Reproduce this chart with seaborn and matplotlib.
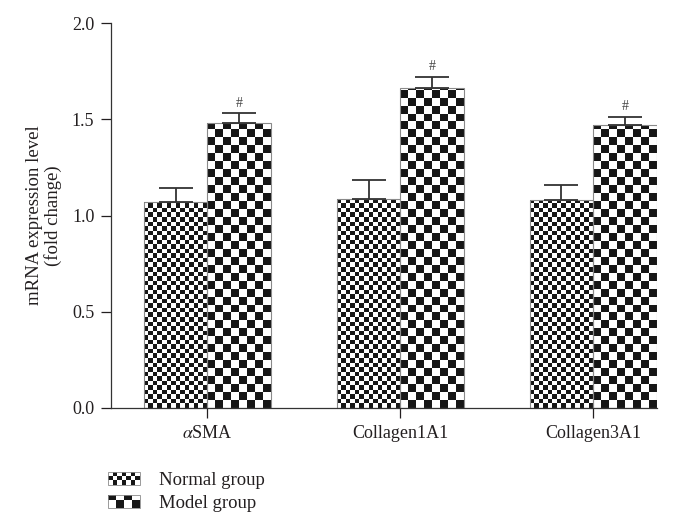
import numpy as np
import pandas as pd
import matplotlib
matplotlib.use("Agg")
import matplotlib.pyplot as plt
import seaborn as sns
from matplotlib.patches import Rectangle
from matplotlib.collections import PatchCollection
from matplotlib.legend_handler import HandlerBase

genes = [r"$\alpha$SMA", "Collagen1A1", "Collagen3A1"]
groups = ["Normal group", "Model group"]
normal_mean = [1.07, 1.085, 1.08]
normal_sd = [0.075, 0.10, 0.08]
model_mean = [1.48, 1.66, 1.47]
model_sd = [0.05, 0.06, 0.04]
sig_marks = ["#", "#", "#"]

INK = "#231f20"
EDGE = "#8a8a8a"
DARK = "#161616"
DPI = 100
# checker cell size (pixels) for each group
cell_px = {groups[0]: 4.55, groups[1]: 8.0}

sns.set_theme(style="ticks")
plt.rcParams["font.family"] = ["Liberation Serif", "DejaVu Serif"]
plt.rcParams["mathtext.fontset"] = "stix"
plt.rcParams["text.color"] = INK
plt.rcParams["axes.labelcolor"] = INK
plt.rcParams["xtick.color"] = INK
plt.rcParams["ytick.color"] = INK

df = pd.DataFrame({
    "gene": genes * 2,
    "group": [groups[0]] * 3 + [groups[1]] * 3,
    "value": normal_mean + model_mean,
})

fig = plt.figure(figsize=(6.81, 5.17), dpi=DPI)
ax = fig.add_axes([111 / 681, 1 - 408 / 517, (657 - 111) / 681, (408 - 23) / 517])

sns.barplot(data=df, x="gene", y="value", hue="group", order=genes,
            hue_order=groups, width=0.66, errorbar=None, legend=False,
            palette=["white", "white"], saturation=1, edgecolor=EDGE,
            linewidth=0.8, ax=ax)

ax.set_xlim(-0.5, 2.33)
ax.set_ylim(0, 2.0)
ax.set_yticks([0, 0.5, 1.0, 1.5, 2.0])
ax.set_yticklabels(["0.0", "0.5", "1.0", "1.5", "2.0"])
ax.set_xticks(range(len(genes)))
ax.set_xticklabels(genes)
ax.set_xlabel("")
ax.set_ylabel("mRNA expression level\n(fold change)", fontsize=13.5, labelpad=7,
              linespacing=1.05)
ax.tick_params(axis="both", labelsize=13, length=7, width=0.9, direction="out",
               pad=5)
for side in ("top", "right"):
    ax.spines[side].set_visible(False)
for side in ("left", "bottom"):
    ax.spines[side].set_color("#333333")
    ax.spines[side].set_linewidth(0.9)

px_per_x = ax.transData.transform((1, 0))[0] - ax.transData.transform((0, 0))[0]
px_per_y = ax.transData.transform((0, 1))[1] - ax.transData.transform((0, 0))[1]


def fill_checker(patch, size_px):
    """Cover a bar with a black/white checkerboard of square cells."""
    x0, y0 = patch.get_x(), patch.get_y()
    w, h = patch.get_width(), patch.get_height()
    ncols = max(1, int(round(w * px_per_x / size_px)))
    cw = w / ncols
    ch = cw * px_per_x / px_per_y
    nrows = int(np.ceil(h / ch))
    cells = [Rectangle((x0 + c * cw, y0 + r * ch), cw, ch)
             for r in range(nrows) for c in range(ncols) if (r + c) % 2 == 1]
    coll = PatchCollection(cells, facecolor=DARK, edgecolor="none",
                           zorder=patch.get_zorder() + 0.05)
    ax.add_collection(coll, autolim=False)
    coll.set_clip_path(patch)
    patch.set_zorder(patch.get_zorder() + 0.1)
    patch.set_facecolor("none")
    # white backing under the checker
    ax.add_patch(Rectangle((x0, y0), w, h, facecolor="white", edgecolor="none",
                           zorder=patch.get_zorder() - 0.2))


bars = {}
for patch in list(ax.patches):
    cx = patch.get_x() + patch.get_width() / 2
    idx = int(round(cx))
    grp = groups[0] if cx < idx else groups[1]
    bars[(grp, idx)] = patch
    fill_checker(patch, cell_px[grp])

ax.set_xlim(-0.5, 2.33)
ax.set_ylim(0, 2.0)

for grp, means, sds in ((groups[0], normal_mean, normal_sd),
                        (groups[1], model_mean, model_sd)):
    for i, (m, s) in enumerate(zip(means, sds)):
        p = bars[(grp, i)]
        cx = p.get_x() + p.get_width() / 2
        ax.errorbar(cx, m, yerr=[[0], [s]], fmt="none", ecolor="#333333",
                    elinewidth=1.3, capsize=12, capthick=1.3, zorder=5)

for i, mark in enumerate(sig_marks):
    p = bars[(groups[1], i)]
    cx = p.get_x() + p.get_width() / 2
    ax.text(cx, model_mean[i] + model_sd[i] + 0.02, mark, ha="center",
            va="bottom", fontsize=10, color="#444444")


class CheckerHandler(HandlerBase):
    def __init__(self, size_px):
        super().__init__()
        self.size = size_px * 72 / DPI

    def legend_artist(self, legend, orig_handle, fontsize, handlebox):
        w, h = handlebox.width, handlebox.height
        x0, y0 = handlebox.xdescent, handlebox.ydescent
        s = self.size
        ncols = int(np.ceil(w / s))
        nrows = int(np.ceil(h / s))
        tr = handlebox.get_transform()
        for r in range(nrows):
            for c in range(ncols):
                if (r + c) % 2 == 0:
                    continue
                cw = min(s, w - c * s)
                ch = min(s, h - r * s)
                handlebox.add_artist(Rectangle((-x0 + c * s, -y0 + r * s), cw, ch,
                                               facecolor=DARK, edgecolor="none",
                                               transform=tr))
        frame = Rectangle((-x0, -y0), w, h, facecolor="none", edgecolor=EDGE,
                          linewidth=0.6, transform=tr)
        handlebox.add_artist(frame)
        return frame


h_normal = Rectangle((0, 0), 1, 1)
h_model = Rectangle((0, 0), 1, 1)
fig.legend([h_normal, h_model], groups,
           handler_map={h_normal: CheckerHandler(cell_px[groups[0]]),
                        h_model: CheckerHandler(cell_px[groups[1]])},
           loc="upper left", bbox_to_anchor=(108 / 681, 1 - 472 / 517),
           frameon=False, fontsize=13.5, handlelength=1.7, handleheight=0.68,
           handletextpad=1.0, labelspacing=0.33, borderpad=0, borderaxespad=0)

fig.savefig("out.png", dpi=DPI)
